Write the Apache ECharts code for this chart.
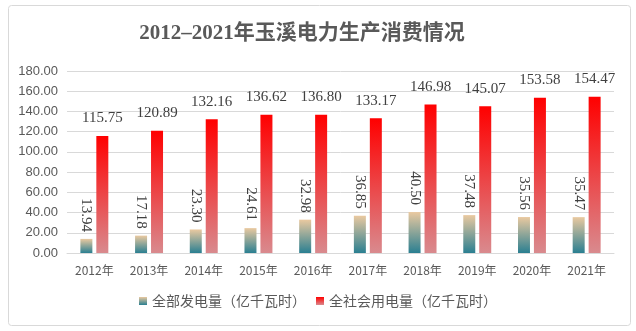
<!DOCTYPE html>
<html><head><meta charset="utf-8">
<script src="https://cdn.jsdelivr.net/npm/echarts@6/dist/echarts.min.js"></script>
<style>html,body{margin:0;padding:0;background:#fff}#c{width:636px;height:331px}</style>
</head><body><div id="c"></div>
<script>
const categories = ['2012年','2013年','2014年','2015年','2016年','2017年','2018年','2019年','2020年','2021年'];
const generation = [13.94,17.18,23.30,24.61,32.98,36.85,40.50,37.48,35.56,35.47];
const consumption = [115.75,120.89,132.16,136.62,136.80,133.17,146.98,145.07,153.58,154.47];
const seriesNames = ['全部发电量（亿千瓦时）','全社会用电量（亿千瓦时）'];
const titleText = '2012–2021年玉溪电力生产消费情况';

const chart = echarts.init(document.getElementById('c'), null, {renderer:'canvas'});
const gGreen = new echarts.graphic.LinearGradient(0,0,0,1,[{offset:0,color:'#eac9a0'},{offset:1,color:'#2a7f91'}]);
const gRed = new echarts.graphic.LinearGradient(0,0,0,1,[{offset:0,color:'#ff0000'},{offset:1,color:'#d98a8e'}]);
chart.setOption({
  animation:false,
  graphic:[{type:'rect',shape:{x:8.5,y:5.5,width:622,height:320,r:3},style:{fill:'none',stroke:'#d9d9d9',lineWidth:1},z:-1}],
  title:{text:titleText,left:297,top:18,textAlign:'center',
    textStyle:{fontFamily:'Liberation Serif, Noto Sans CJK SC',fontWeight:'bold',fontSize:21,color:'#595959'}},
  grid:{left:67,right:22,top:71,bottom:78},
  legend:{bottom:18,left:'center',itemWidth:8,itemHeight:8,itemGap:10,icon:'rect',
    textStyle:{fontFamily:'Noto Sans CJK SC',fontSize:14,color:'#595959'},data:seriesNames},
  xAxis:{type:'category',data:categories,axisTick:{show:false},
    axisLine:{lineStyle:{color:'#d9d9d9'}},
    axisLabel:{color:'#595959',fontSize:12,margin:11,fontFamily:'Noto Sans CJK SC'}},
  yAxis:{type:'value',min:0,max:180,interval:20,
    axisLabel:{color:'#595959',fontSize:13,margin:9,fontFamily:'Liberation Sans',formatter:v=>v.toFixed(2)},
    splitLine:{lineStyle:{color:'#d9d9d9'}},axisLine:{show:false},axisTick:{show:false}},
  series:[
    {name:seriesNames[0],type:'bar',data:generation,barWidth:12,barGap:'33%',barCategoryGap:'49%',
      itemStyle:{color:gGreen},
      label:{show:true,position:'top',rotate:-90,align:'right',verticalAlign:'middle',distance:7,
        formatter:p=>p.value.toFixed(2),fontFamily:'Liberation Serif',fontSize:15,color:'#404040'}},
    {name:seriesNames[1],type:'bar',data:consumption,barWidth:12,
      itemStyle:{color:gRed},
      label:{show:true,position:'top',distance:10,formatter:p=>p.value.toFixed(2),
        fontFamily:'Liberation Serif',fontSize:15,color:'#404040'}}
  ]
});
</script></body></html>
